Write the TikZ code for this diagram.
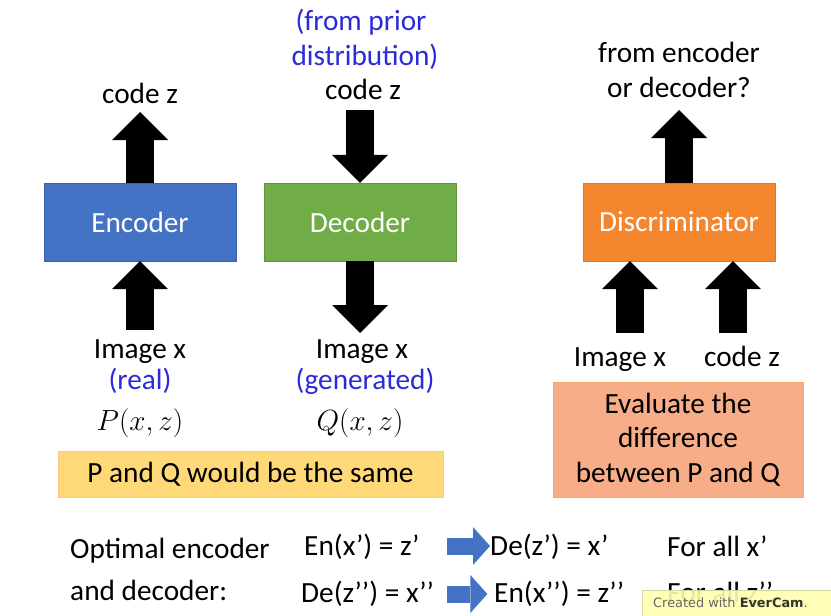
\documentclass[tikz,border=0pt]{standalone}
\usepackage{fontspec}
\setmainfont{Carlito}
\newfontfamily\evercamfont{DejaVu Sans}
\usepackage{xcolor}
\usepackage{tikz}
\usetikzlibrary{arrows.meta}
\usetikzlibrary{positioning}

\definecolor{encblue}{HTML}{4472C4}
\definecolor{decgreen}{HTML}{70AD47}
\definecolor{disorange}{HTML}{F4862E}
\definecolor{noteblue}{HTML}{2B2BDB}
\definecolor{sameyellow}{HTML}{FFD878}
\definecolor{diffsalmon}{HTML}{F7AD88}
\definecolor{everyellow}{HTML}{FFFFB0}

\tikzset{
  block/.style={minimum width=5.76cm, minimum height=2.34cm, inner sep=0pt, text=white,
    font=\fontsize{25}{30}\selectfont},
  lbl/.style={inner sep=0pt, font=\fontsize{25}{30}\selectfont},
  note/.style={lbl, text=noteblue},
  fat/.style={line width=0.84cm, -{Triangle[length=0.84cm, width=1.68cm, line width=0pt]}},
  bluefat/.style={encblue, line width=0.51cm, -{Triangle[length=0.51cm, width=1.14cm, line width=0pt]}},
  evercam/.style={inner sep=0pt, font=\evercamfont\fontsize{11}{13}\selectfont, text=black!60}
}

\begin{document}
\begin{tikzpicture}[x=0.03cm, y=-0.03cm]
      \fill[white] (0,0) rectangle (831,616);
      \useasboundingbox (0,0) rectangle (831,616);

      \node[block, fill=encblue, draw=encblue!85!black] (enc) at (140,222) {Encoder};
      \node[block, fill=decgreen, draw=decgreen!85!black] (dec) at (360,222) {Decoder};
      \node[block, fill=disorange, draw=disorange!90!black] (dis) at (679,222) {Discriminator};

      \node[lbl, anchor=base] (encZ) at (140,103) {code z};
      \node[lbl, anchor=base] (encX) at (140,358) {Image x};
      \node[note, anchor=base] (real) at (140,389) {(real)};
      \node[lbl, anchor=base] (probP) at (140,430) {$P(x,z)$};

      \node[note, anchor=base] (prior1) at (361,30) {(from prior};
      \node[note, anchor=base] (prior2) at (365,65) {distribution)};
      \node[lbl, anchor=base] (decZ) at (363,99) {code z};
      \node[lbl, anchor=base] (decX) at (362,358) {Image x};
      \node[note, anchor=base] (gen) at (365,389) {(generated)};
      \node[lbl, anchor=base] (probQ) at (360,430) {$Q(x,z)$};

      \node[lbl, anchor=base] (ask1) at (679,62) {from encoder};
      \node[lbl, anchor=base] (ask2) at (679,97) {or decoder?};
      \node[lbl, anchor=base] (disX) at (620,366) {Image x};
      \node[lbl, anchor=base] (disZ) at (742,366) {code z};

      \coordinate (encZin) at (140,112);
      \coordinate (encXout) at (140,330);
      \coordinate (decZout) at (360,110);
      \coordinate (decXin) at (360,333);
      \coordinate (disOut) at (679,110);
      \coordinate (disXin) at (630,333);
      \coordinate (disZin) at (733,333);

      \draw[fat] (enc) -- (encZin);
      \draw[fat] (encXout) -- (enc);
      \draw[fat] (decZout) -- (dec);
      \draw[fat] (dec) -- (decXin);
      \draw[fat] (dis) -- (disOut);
      \draw[fat] (disXin) -- (disXin |- dis.south);
      \draw[fat] (disZin) -- (disZin |- dis.south);

      \node[lbl, fill=sameyellow, draw=orange!45, minimum width=11.55cm, minimum height=1.38cm]
        (same) at (250.5,474) {P and Q would be the same};
      \node[lbl, fill=diffsalmon, draw=diffsalmon!80!orange, minimum width=7.5cm, minimum height=3.45cm,
        align=center, font=\fontsize{25}{29.3}\selectfont]
        (diff) at (678,439.5) {Evaluate the\\difference\\between P and Q};

      \node[lbl, anchor=base west] (opt1) at (70,558) {Optimal encoder};
      \node[lbl, anchor=base west] (opt2) at (70,600) {and decoder:};

      \node[lbl, anchor=base west] (en1) at (304,555) {En(x’) = z’};
      \node[lbl, anchor=base west] (de1) at (490,555) {De(z’) = x’};
      \node[lbl, anchor=base west] (all1) at (667,556) {For all x’};
      \node[lbl, anchor=base west] (de2) at (301,602) {De(z’’) = x’’};
      \node[lbl, anchor=base west] (en2) at (494,602) {En(x’’) = z’’};
      \node[lbl, anchor=base west] (all2) at (667,602) {For all z’’};

      \coordinate (imp1) at (447,546);
      \coordinate (imp2) at (447,594);
      \draw[bluefat] (imp1) -- (imp1 -| de1.west);
      \draw[bluefat] (imp2) -- ([xshift=-0.2cm]imp2 -| en2.west);

      \filldraw[fill=everyellow, fill opacity=0.9, draw=yellow!40!gray!60] (642,590) rectangle (840,620);
      \node[evercam, anchor=base west] (ever) at (653,607) {Created with \textbf{\color{black!80}EverCam}.};
    \end{tikzpicture}
\end{document}
